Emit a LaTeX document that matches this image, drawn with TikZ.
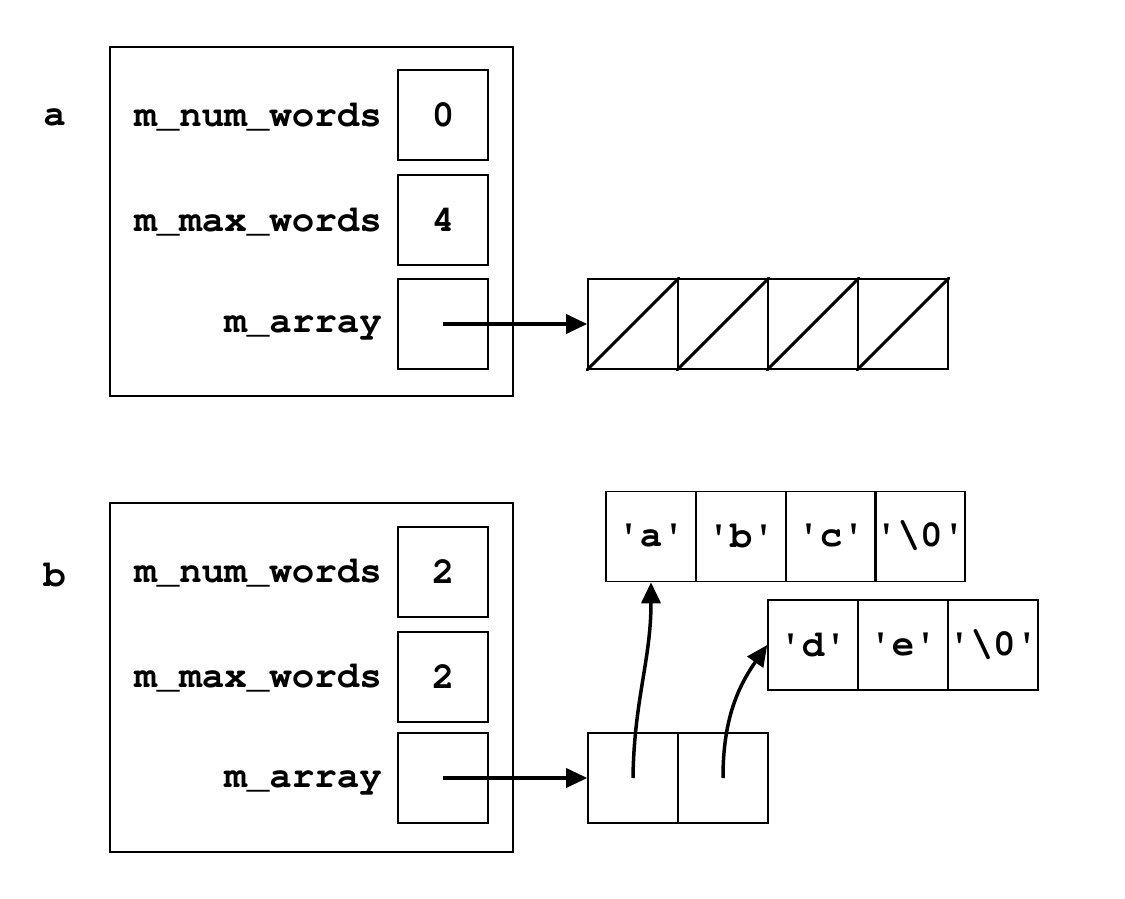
\documentclass[tikz,border=0pt]{standalone}
\usepackage[T1]{fontenc}
\renewcommand{\ttdefault}{pcr}
\usetikzlibrary{arrows.meta}
\newcommand{\chq}{\textquotesingle}

\tikzset{
  frame/.style={draw, line width=1.4pt, minimum width=403pt, minimum height=349pt, inner sep=0pt},
  cell/.style={draw, line width=1.6pt, minimum width=90pt, minimum height=90pt, inner sep=0pt, font=\fontsize{37.5}{40}\selectfont\ttfamily\bfseries},
  fld/.style={anchor=east, inner sep=0pt, font=\fontsize{37.5}{40}\selectfont\ttfamily\bfseries},
  ptr/.style={line width=3.5pt, -{Triangle[length=21pt,width=19pt]}}
}

\begin{document}
\begin{tikzpicture}
[x=1pt,y=-1pt]
\useasboundingbox (0,0) rectangle (1125,899);

\node[fld] (na) at (66,117) {a};
\node[frame] (fa) at (311.5,221.5) {};
\node[fld] (la1) at (382,117) {m\_num\_words};
\node[fld] (la2) at (382,222) {m\_max\_words};
\node[fld] (la3) at (382,327) {m\_array};
\node[cell] (a1) at (443,115) {0};
\node[cell] (a2) at (443,220) {4};
\node[cell] (a3) at (443,324) {};

\node[cell] (w1) at (633,324) {};
\node[cell] (w2) at (723,324) {};
\node[cell] (w3) at (813,324) {};
\node[cell] (w4) at (903,324) {};

\node[fld] (nb) at (66,575) {b};
\node[frame] (fb) at (311.5,677.5) {};
\node[fld] (lb1) at (382,573) {m\_num\_words};
\node[fld] (lb2) at (382,678) {m\_max\_words};
\node[fld] (lb3) at (382,782) {m\_array};
\node[cell] (b1) at (443,572) {2};
\node[cell] (b2) at (443,677) {2};
\node[cell] (b3) at (443,778) {};

\node[cell] (p1) at (633,778) {};
\node[cell] (p2) at (723,778) {};

\node[cell] (c1) at (651,536.5) {\chq a\chq};
\node[cell] (c2) at (741,536.5) {\chq b\chq};
\node[cell] (c3) at (831,536.5) {\chq c\chq};
\node[cell] (c4) at (920,536.5) {\chq\textbackslash0\chq};

\node[cell] (d1) at (813,645) {\chq d\chq};
\node[cell] (d2) at (903,645) {\chq e\chq};
\node[cell] (d3) at (993,645) {\chq\textbackslash0\chq};

\foreach \w in {w1,w2,w3,w4}
\draw[line width=3pt, line cap=round] (\w.south west) -- (\w.north east);

\draw[ptr] (a3.center) -- (w1.west);
\draw[ptr] (b3.center) -- (p1.west);
\draw[ptr] (p1.center) .. controls (634,700) and (651,660) .. (c1.south);
\draw[ptr] (p2.center) to[out=90,in=235] (d1.west);
\end{tikzpicture}
\end{document}
